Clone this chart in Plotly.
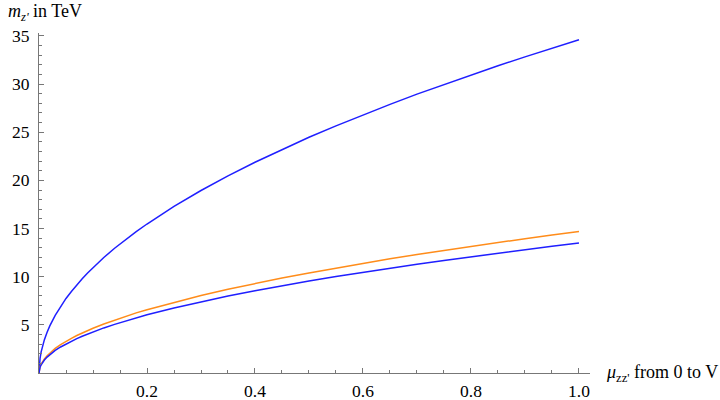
import plotly.graph_objects as go

# values
mu = [0, 0.001, 0.002, 0.004, 0.006, 0.008, 0.01, 0.015, 0.02, 0.03, 0.04, 0.05,
      0.06, 0.07, 0.08, 0.09, 0.1, 0.12, 0.14, 0.16, 0.18, 0.2, 0.25, 0.3, 0.35,
      0.4, 0.45, 0.5, 0.55, 0.6, 0.65, 0.7, 0.75, 0.8, 0.85, 0.9, 0.95, 1.0]
m_upper = [0, 1.09, 1.55, 2.19, 2.68, 3.09, 3.46, 4.24, 4.89, 5.99, 6.92, 7.74,
           8.47, 9.15, 9.79, 10.38, 10.94, 11.99, 12.95, 13.84, 14.68, 15.47, 17.3, 18.95, 20.47,
           21.88, 23.21, 24.47, 25.66, 26.8, 27.89, 28.95, 29.96, 30.95, 31.9, 32.82, 33.72, 34.6]
m_orange = [0, 0.46, 0.66, 0.93, 1.14, 1.31, 1.47, 1.8, 2.08, 2.55, 2.94, 3.29,
            3.6, 3.89, 4.16, 4.41, 4.65, 5.09, 5.5, 5.88, 6.24, 6.57, 7.35, 8.05, 8.7,
            9.3, 9.86, 10.39, 10.9, 11.39, 11.85, 12.3, 12.73, 13.15, 13.55, 13.95, 14.33, 14.7]
m_lower = [0, 0.43, 0.6, 0.85, 1.05, 1.21, 1.35, 1.65, 1.91, 2.34, 2.7, 3.02,
           3.31, 3.57, 3.82, 4.05, 4.27, 4.68, 5.05, 5.4, 5.73, 6.04, 6.75, 7.39, 7.99,
           8.54, 9.06, 9.55, 10.01, 10.46, 10.88, 11.3, 11.69, 12.07, 12.45, 12.81, 13.16, 13.5]

x_ticks = [0.2, 0.4, 0.6, 0.8, 1.0]
x_labels = ["0.2", "0.4", "0.6", "0.8", "1.0"]
y_ticks = [5, 10, 15, 20, 25, 30, 35]

font = "Liberation Serif"

fig = go.Figure()
for ys, col in [(m_upper, "#1f1fff"), (m_orange, "#ff8c1a"), (m_lower, "#1f1fff")]:
  fig.add_trace(go.Scatter(
    x=mu,
    y=ys,
    mode="lines",
    line=dict(color=col, width=1.5),
    showlegend=False,
    hoverinfo="skip"
  ))

axis_style = dict(
  showgrid=False,
  zeroline=False,
  showline=True,
  automargin=False,
  linecolor="#777777",
  linewidth=1,
  ticks="inside",
  tickcolor="#777777",
  tickfont=dict(family=font, size=17.5, color="black"),
)

fig.update_xaxes(
  range=[0, 1.0204],
  tickmode="array",
  tickvals=x_ticks,
  ticktext=x_labels,
  ticklen=5,
  ticklabelstandoff=2,
  minor=dict(dtick=0.05, tick0=0, ticks="inside", ticklen=3, tickcolor="#777777"),
  **axis_style
)
fig.update_yaxes(
  range=[0, 35.3],
  tickmode="array",
  tickvals=y_ticks,
  ticklen=4.5,
  ticklabelstandoff=5,
  minor=dict(dtick=1, tick0=0, ticks="inside", ticklen=2.7, tickcolor="#777777"),
  **axis_style
)

fig.add_annotation(
  text="<i>m</i><sub><i>z'</i></sub> in TeV",
  xref="paper", yref="paper", x=0, y=1,
  xanchor="left", yanchor="middle",
  xshift=-33, yshift=21,
  showarrow=False,
  font=dict(family=font, size=18, color="black")
)
fig.add_annotation(
  text="<i>μ</i><sub>zz'</sub> from 0 to V",
  xref="paper", yref="y", x=1, y=0,
  xanchor="left", yanchor="middle",
  xshift=14,
  showarrow=False,
  font=dict(family=font, size=18, color="black")
)

fig.update_layout(
  width=720,
  height=400,
  margin=dict(l=39, r=130, t=33, b=27),
  paper_bgcolor="white",
  plot_bgcolor="white",
)

# drop the page's default 8px body margin so the figure fills the window
fig.write_html(
  "out.html",
  config={"displayModeBar": False},
  post_script="document.body.style.margin='0';"
)
